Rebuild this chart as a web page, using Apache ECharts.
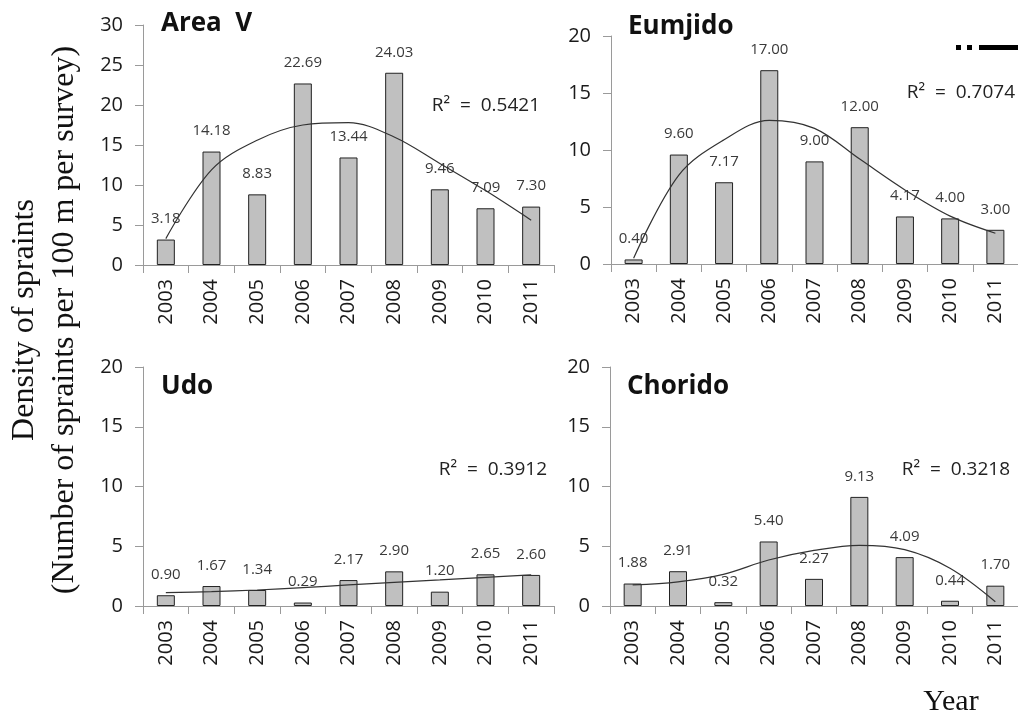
<!DOCTYPE html>
<html>
<head>
<meta charset="utf-8">
<script src="https://cdn.jsdelivr.net/npm/echarts@6/dist/echarts.min.js"></script>
<style>
  html, body { margin: 0; padding: 0; background: #fff; }
  #chart { width: 1018px; height: 718px; }
</style>
</head>
<body>
<div id="chart"></div>
<script>
// Survey years (category axis for every panel)
const years = ['2003', '2004', '2005', '2006', '2007', '2008', '2009', '2010', '2011'];

// Density of spraints per site (spraints per 100 m per survey)
const areaV   = [3.18, 14.18, 8.83, 22.69, 13.44, 24.03, 9.46, 7.09, 7.30];
const eumjido = [0.40, 9.60, 7.17, 17.00, 9.00, 12.00, 4.17, 4.00, 3.00];
const udo     = [0.90, 1.67, 1.34, 0.29, 2.17, 2.90, 1.20, 2.65, 2.60];
const chorido = [1.88, 2.91, 0.32, 5.40, 2.27, 9.13, 4.09, 0.44, 1.70];

// Fitted trend curves, value at each survey year
const areaVTrend   = [3.3, 11.9, 15.6, 17.5, 17.8, 16.0, 12.7, 9.3, 5.6];
const eumjidoTrend = [0.5, 7.8, 10.9, 12.6, 11.9, 9.2, 6.5, 4.2, 2.7];
const udoTrend     = [1.12, 1.20, 1.34, 1.54, 1.76, 1.98, 2.18, 2.40, 2.60];
const choridoTrend = [1.76, 2.02, 2.65, 3.85, 4.65, 5.08, 4.72, 3.16, 0.36];

// Panel names and coefficients of determination
const siteNames = ['Area  V', 'Eumjido', 'Udo', 'Chorido'];
const rSquared  = ['0.5421', '0.7074', '0.3912', '0.3218'];

// Y-axis ranges
const yMax = [30, 20, 20, 20];
const yTickStep = 5;

const SANS = '"Open Sans", "Noto Sans", sans-serif';
const SERIF = '"Liberation Serif", "DejaVu Serif", serif';

const barSets = [areaV, eumjido, udo, chorido];
const trendSets = [areaVTrend, eumjidoTrend, udoTrend, choridoTrend];

const grids = [
  { left: 143, top: 25,  width: 411, height: 240 },
  { left: 611, top: 36,  width: 411, height: 228 },
  { left: 143, top: 367, width: 411, height: 239 },
  { left: 610, top: 367, width: 411, height: 239 }
];

const axisGray = '#9a9a9a';

const xAxes = grids.map((g, i) => ({
  type: 'category',
  gridIndex: i,
  data: years,
  boundaryGap: true,
  axisLine: { show: true, lineStyle: { color: axisGray, width: 1 } },
  axisTick: { show: true, length: 8, alignWithLabel: false, lineStyle: { color: axisGray } },
  axisLabel: { rotate: 90, margin: 14, fontSize: 20, color: '#1a1a1a', fontFamily: SANS, interval: 0 }
}));

const yAxes = grids.map((g, i) => ({
  type: 'value',
  gridIndex: i,
  min: 0,
  max: yMax[i],
  interval: yTickStep,
  splitLine: { show: false },
  axisLine: { show: true, lineStyle: { color: axisGray, width: 1 } },
  axisTick: { show: true, length: 8, lineStyle: { color: axisGray } },
  axisLabel: { margin: 20, fontSize: 20, color: '#1a1a1a', fontFamily: SANS }
}));

const series = [];
barSets.forEach((vals, i) => {
  series.push({
    type: 'bar',
    xAxisIndex: i,
    yAxisIndex: i,
    data: vals,
    barWidth: 18,
    itemStyle: { color: '#c0c0c0', borderColor: '#222', borderWidth: 1 },
    label: {
      show: true,
      position: 'top',
      distance: 13,
      fontSize: 15,
      color: '#3a3a3a',
      fontFamily: SANS,
      formatter: p => p.value.toFixed(2)
    },
    silent: true
  });
});
trendSets.forEach((vals, i) => {
  series.push({
    type: 'line',
    xAxisIndex: i,
    yAxisIndex: i,
    data: vals,
    smooth: 0.35,
    symbol: 'none',
    lineStyle: { color: '#333', width: 1.2 },
    z: 5,
    silent: true
  });
});

// Panel headings, R² annotations and shared axis titles
const titlePos = [[161, 24], [628, 27], [161, 387], [627, 387]];
const rPos = [[540, 106], [1015, 93], [547, 470], [1010, 470]];

const graphics = [];
siteNames.forEach((name, i) => {
  graphics.push({
    type: 'text', x: titlePos[i][0], y: titlePos[i][1],
    style: { text: name, font: 'bold 26px ' + SANS, fill: '#111', textAlign: 'left', textVerticalAlign: 'middle' }
  });
  graphics.push({
    type: 'text', x: rPos[i][0], y: rPos[i][1],
    style: { text: 'R\u00B2  =  ' + rSquared[i], font: '19px ' + SANS, fill: '#222', textAlign: 'right', textVerticalAlign: 'middle' }
  });
});
graphics.push({
  type: 'text', x: 25, y: 320, rotation: Math.PI / 2,
  style: { text: 'Density of spraints', font: '32px ' + SERIF, fill: '#111', textAlign: 'center', textVerticalAlign: 'middle' }
});
graphics.push({
  type: 'text', x: 65, y: 320, rotation: Math.PI / 2,
  style: { text: '(Number of spraints per 100 m per survey)', font: '32px ' + SERIF, fill: '#111', textAlign: 'center', textVerticalAlign: 'middle' }
});
graphics.push({
  type: 'text', x: 951, y: 702,
  style: { text: 'Year', font: '30px ' + SERIF, fill: '#111', textAlign: 'center', textVerticalAlign: 'middle' }
});
// Line-style key in the upper right corner
graphics.push({ type: 'rect', shape: { x: 956, y: 45, width: 5, height: 5 }, style: { fill: '#000' } });
graphics.push({ type: 'rect', shape: { x: 967, y: 45, width: 5, height: 5 }, style: { fill: '#000' } });
graphics.push({ type: 'rect', shape: { x: 979, y: 45, width: 40, height: 5 }, style: { fill: '#000' } });

const chart = echarts.init(document.getElementById('chart'), null, { renderer: 'canvas' });
chart.setOption({
  animation: false,
  backgroundColor: '#fff',
  grid: grids,
  xAxis: xAxes,
  yAxis: yAxes,
  series: series,
  graphic: graphics
});
</script>
</body>
</html>
